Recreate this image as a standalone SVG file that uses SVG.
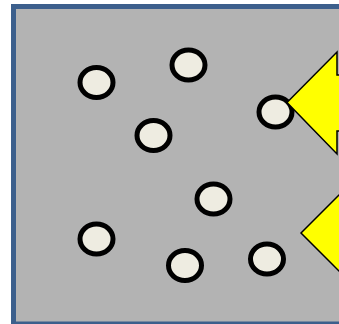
<svg xmlns="http://www.w3.org/2000/svg" width="339" height="324" viewBox="0 0 339 324">
<style>
.node{fill:#eeece1;stroke:#000;stroke-width:5}
.arrow{fill:#ffff00;stroke:#000;stroke-width:1.5;stroke-linejoin:miter}
</style>
<rect x="13.5" y="6.5" width="340" height="317.5" fill="#b3b3b3" stroke="#3c5f8c" stroke-width="5"/>
<g id="n1"><ellipse class="node" cx="96.5" cy="82.5" rx="16.5" ry="15"/></g>
<g id="n2"><ellipse class="node" cx="188.5" cy="65" rx="16.5" ry="15"/></g>
<g id="n3"><ellipse class="node" cx="275.5" cy="112" rx="16.5" ry="15"/></g>
<g id="n4"><ellipse class="node" cx="153.5" cy="135.5" rx="16.5" ry="15"/></g>
<g id="n5"><ellipse class="node" cx="213.5" cy="199" rx="16.5" ry="15"/></g>
<g id="n6"><ellipse class="node" cx="96.5" cy="239" rx="16.5" ry="15"/></g>
<g id="n7"><ellipse class="node" cx="185" cy="265.5" rx="16.5" ry="15"/></g>
<g id="n8"><ellipse class="node" cx="267" cy="259" rx="16.5" ry="15"/></g>
<g id="connectors">
<polygon id="arrow1" class="arrow" points="287,102.5 337,52 337,75 350,75 350,131 337,131 337,154"/>
<polygon id="arrow2" class="arrow" points="301,233 345,189 345,277"/>
</g>
</svg>
